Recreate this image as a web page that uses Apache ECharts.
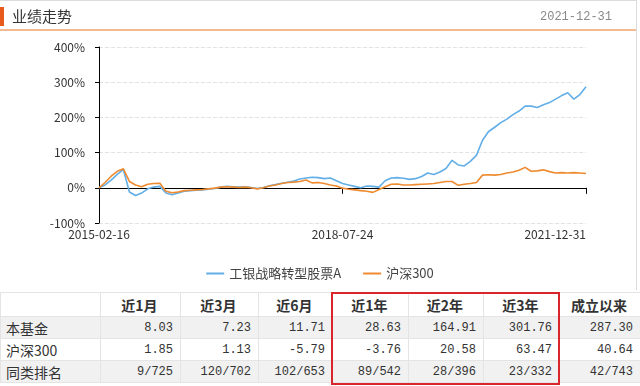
<!DOCTYPE html>
<html>
<head>
<meta charset="utf-8">
<script src="https://cdn.jsdelivr.net/npm/echarts@6/dist/echarts.min.js"></script>
<style>
  html, body { margin: 0; padding: 0; background: #fff; }
  #page { position: relative; width: 640px; height: 386px; overflow: hidden; background: #fff; font-family: "Noto Sans CJK SC", sans-serif; }
  #topline { position: absolute; left: 0; top: 0; width: 637px; height: 1px; background: #dcdcdc; }
  #rightline { position: absolute; left: 636px; top: 0; width: 1px; height: 290px; background: #dcdcdc; }
  #bar { position: absolute; left: 0; top: 7px; width: 4px; height: 19px; background: #e85a1c; }
  #title { position: absolute; left: 12px; top: 5px; font-size: 15px; line-height: 22px; color: #333; }
  #date { position: absolute; right: 28px; top: 8px; font-size: 12px; line-height: 18px; color: #888; font-family: "Liberation Mono", monospace; }
  #hline { position: absolute; left: 0; top: 29px; width: 636px; height: 2px; background: #f3b993; }
  #chart { position: absolute; left: 0; top: 0; width: 640px; height: 290px; }
  #tbl { position: absolute; left: 0; top: 292px; width: 640px; border-collapse: collapse; table-layout: fixed; }
  #tbl td { border: 1px solid #e4e4e4; padding: 0 7px 0 5px; font-size: 12px; color: #333; white-space: nowrap; overflow: hidden; }
  #tbl tr.h td { height: 23px; font-size: 14px; font-weight: bold; text-align: center; background: #fff; }
  #tbl tr.r td { height: 21px; text-align: right; font-family: "Liberation Mono", monospace; font-size: 12px; }
  #tbl tr.r td.l { text-align: left; font-family: "Noto Sans CJK SC", sans-serif; font-size: 14px; }
  #tbl tr.g td { background: #f1f1f1; }
  #redbox { position: absolute; left: 331px; top: 292px; width: 225px; height: 89px; border: 2px solid #d9262c; }
</style>
</head>
<body>
<div id="page">
  <div id="chart"></div>
  <div id="topline"></div>
  <div id="rightline"></div>
  <div id="bar"></div>
  <div id="title">业绩走势</div>
  <div id="date">2021-12-31</div>
  <div id="hline"></div>
  <table id="tbl"></table>
  <div id="redbox"></div>
</div>
<script>
// ---- data ----
var headerTitle = '业绩走势';
var headerDate = '2021-12-31';
var seriesNames = ['工银战略转型股票A', '沪深300'];
var dates = [
  '2015-02-16',
  '2015-03-20','2015-04-20','2015-05-20','2015-06-19','2015-07-20','2015-08-20','2015-09-21','2015-10-20','2015-11-20','2015-12-21',
  '2016-01-20','2016-02-22','2016-03-21','2016-04-20','2016-05-20','2016-06-20','2016-07-20','2016-08-22','2016-09-20','2016-10-20','2016-11-21','2016-12-20',
  '2017-01-20','2017-02-20','2017-03-20','2017-04-20','2017-05-22','2017-06-20','2017-07-20','2017-08-21','2017-09-20','2017-10-20','2017-11-20','2017-12-20',
  '2018-01-22','2018-02-22','2018-03-20','2018-04-20','2018-05-21',
  '2018-07-24',
  '2018-08-24','2018-09-25','2018-10-25','2018-11-26','2018-12-25',
  '2019-01-25','2019-02-25','2019-03-25','2019-04-25','2019-05-27','2019-06-25','2019-07-25','2019-08-26','2019-09-25','2019-10-25','2019-11-25','2019-12-25',
  '2020-01-22','2020-02-25','2020-03-25','2020-04-27','2020-05-25','2020-06-29','2020-07-27','2020-08-25','2020-09-25','2020-10-26','2020-11-25','2020-12-25',
  '2021-01-25','2021-02-25','2021-03-25','2021-04-26','2021-05-25','2021-06-25','2021-07-26','2021-08-25','2021-09-27','2021-10-25',
  '2021-12-31'
];
var fundValues = [
  0, 8, 22, 38, 52, -12, -22, -15, -3, 2, 4,
  -15, -20, -15, -10, -8, -7, -6, -4, -2, 2, 4, 3,
  2, 3, 1, -2, 1, 6, 9, 13, 16, 19, 25, 28,
  30, 29, 26, 28, 20,
  12,
  8, 4, 0, 5, 4,
  2, 20, 28, 29, 27, 24, 26, 32, 42, 38, 45, 55,
  78, 65, 62, 75, 92, 135, 160, 172, 185, 195, 208, 218,
  232, 232, 228, 236, 242, 252, 262, 270, 252, 265,
  287.30
];
var indexValues = [
  0, 15, 33, 47, 54, 18, 8, 3, 10, 12, 13,
  -10, -14, -12, -8, -7, -6, -5, -3, -1, 2, 3, 2,
  1, 2, 0, -3, 0, 5, 8, 12, 15, 16, 18, 22,
  14, 15, 12, 8, 5,
  -1,
  -4, -6, -8, -10, -13,
  -5, 3, 10, 11, 8, 8, 9, 10, 11, 12, 15, 18,
  18, 7, 10, 12, 15, 36, 37, 36, 38, 42, 45, 50,
  58, 47, 48, 51, 46, 42, 43, 42, 43, 42,
  40.64
];
var yTicks = { min: -100, max: 400, interval: 100 };
var tableHeaders = ['', '近1月', '近3月', '近6月', '近1年', '近2年', '近3年', '成立以来'];
var rowLabels = ['本基金', '沪深300', '同类排名'];
var rowFund = ['8.03', '7.23', '11.71', '28.63', '164.91', '301.76', '287.30'];
var rowIndex = ['1.85', '1.13', '-5.79', '-3.76', '20.58', '63.47', '40.64'];
var rowRank = ['9/725', '120/702', '102/653', '89/542', '28/396', '23/332', '42/743'];
var colWidths = [100, 80, 78, 74, 76, 75, 76, 81];

// ---- header ----
document.getElementById('title').textContent = headerTitle;
document.getElementById('date').textContent = headerDate;

// ---- table ----
(function () {
  var t = document.getElementById('tbl');
  var cg = document.createElement('colgroup');
  colWidths.forEach(function (w) { var c = document.createElement('col'); c.style.width = w + 'px'; cg.appendChild(c); });
  t.appendChild(cg);
  var h = document.createElement('tr'); h.className = 'h';
  tableHeaders.forEach(function (s) { var td = document.createElement('td'); td.textContent = s; h.appendChild(td); });
  t.appendChild(h);
  [rowFund, rowIndex, rowRank].forEach(function (vals, k) {
    var tr = document.createElement('tr'); tr.className = 'r' + (k !== 1 ? ' g' : '');
    var td0 = document.createElement('td'); td0.className = 'l'; td0.textContent = rowLabels[k]; tr.appendChild(td0);
    vals.forEach(function (v) { var td = document.createElement('td'); td.textContent = v; tr.appendChild(td); });
    t.appendChild(tr);
  });
})();

// ---- chart ----
var chart = echarts.init(document.getElementById('chart'), null, { renderer: 'canvas' });
chart.setOption({
  animation: false,
  backgroundColor: 'transparent',
  textStyle: { fontFamily: '"Noto Sans CJK SC", sans-serif' },
  grid: { left: 99, right: 54, top: 47, bottom: 67 },
  legend: {
    data: seriesNames,
    bottom: 5,
    left: 'center',
    itemWidth: 18,
    itemHeight: 2,
    itemGap: 22,
    icon: 'rect',
    textStyle: { fontSize: 13, color: '#444' }
  },
  xAxis: {
    type: 'category',
    data: dates,
    boundaryGap: false,
    axisLine: { lineStyle: { color: '#000', width: 1 } },
    axisTick: { show: true, interval: 39, length: 6, lineStyle: { color: '#000' } },
    axisLabel: { interval: 39, color: '#333', fontSize: 12, margin: 5, alignMaxLabel: 'right', hideOverlap: false },
    splitLine: { show: false }
  },
  yAxis: {
    type: 'value',
    min: yTicks.min,
    max: yTicks.max,
    interval: yTicks.interval,
    axisLine: { show: true, lineStyle: { color: '#000', width: 1 } },
    axisTick: { show: true, length: 4, lineStyle: { color: '#000' } },
    axisLabel: { formatter: '{value}%', color: '#333', fontSize: 12, margin: 14 },
    splitLine: { show: true, lineStyle: { color: '#e3e3e3', type: 'dashed' } }
  },
  series: [
    {
      name: seriesNames[0], type: 'line', data: fundValues, showSymbol: false, symbol: 'none',
      lineStyle: { color: '#62aee6', width: 1.6 }, itemStyle: { color: '#62aee6' }
    },
    {
      name: seriesNames[1], type: 'line', data: indexValues, showSymbol: false, symbol: 'none',
      lineStyle: { color: '#ee8a2f', width: 1.6 }, itemStyle: { color: '#ee8a2f' }
    }
  ]
});
</script>
</body>
</html>
